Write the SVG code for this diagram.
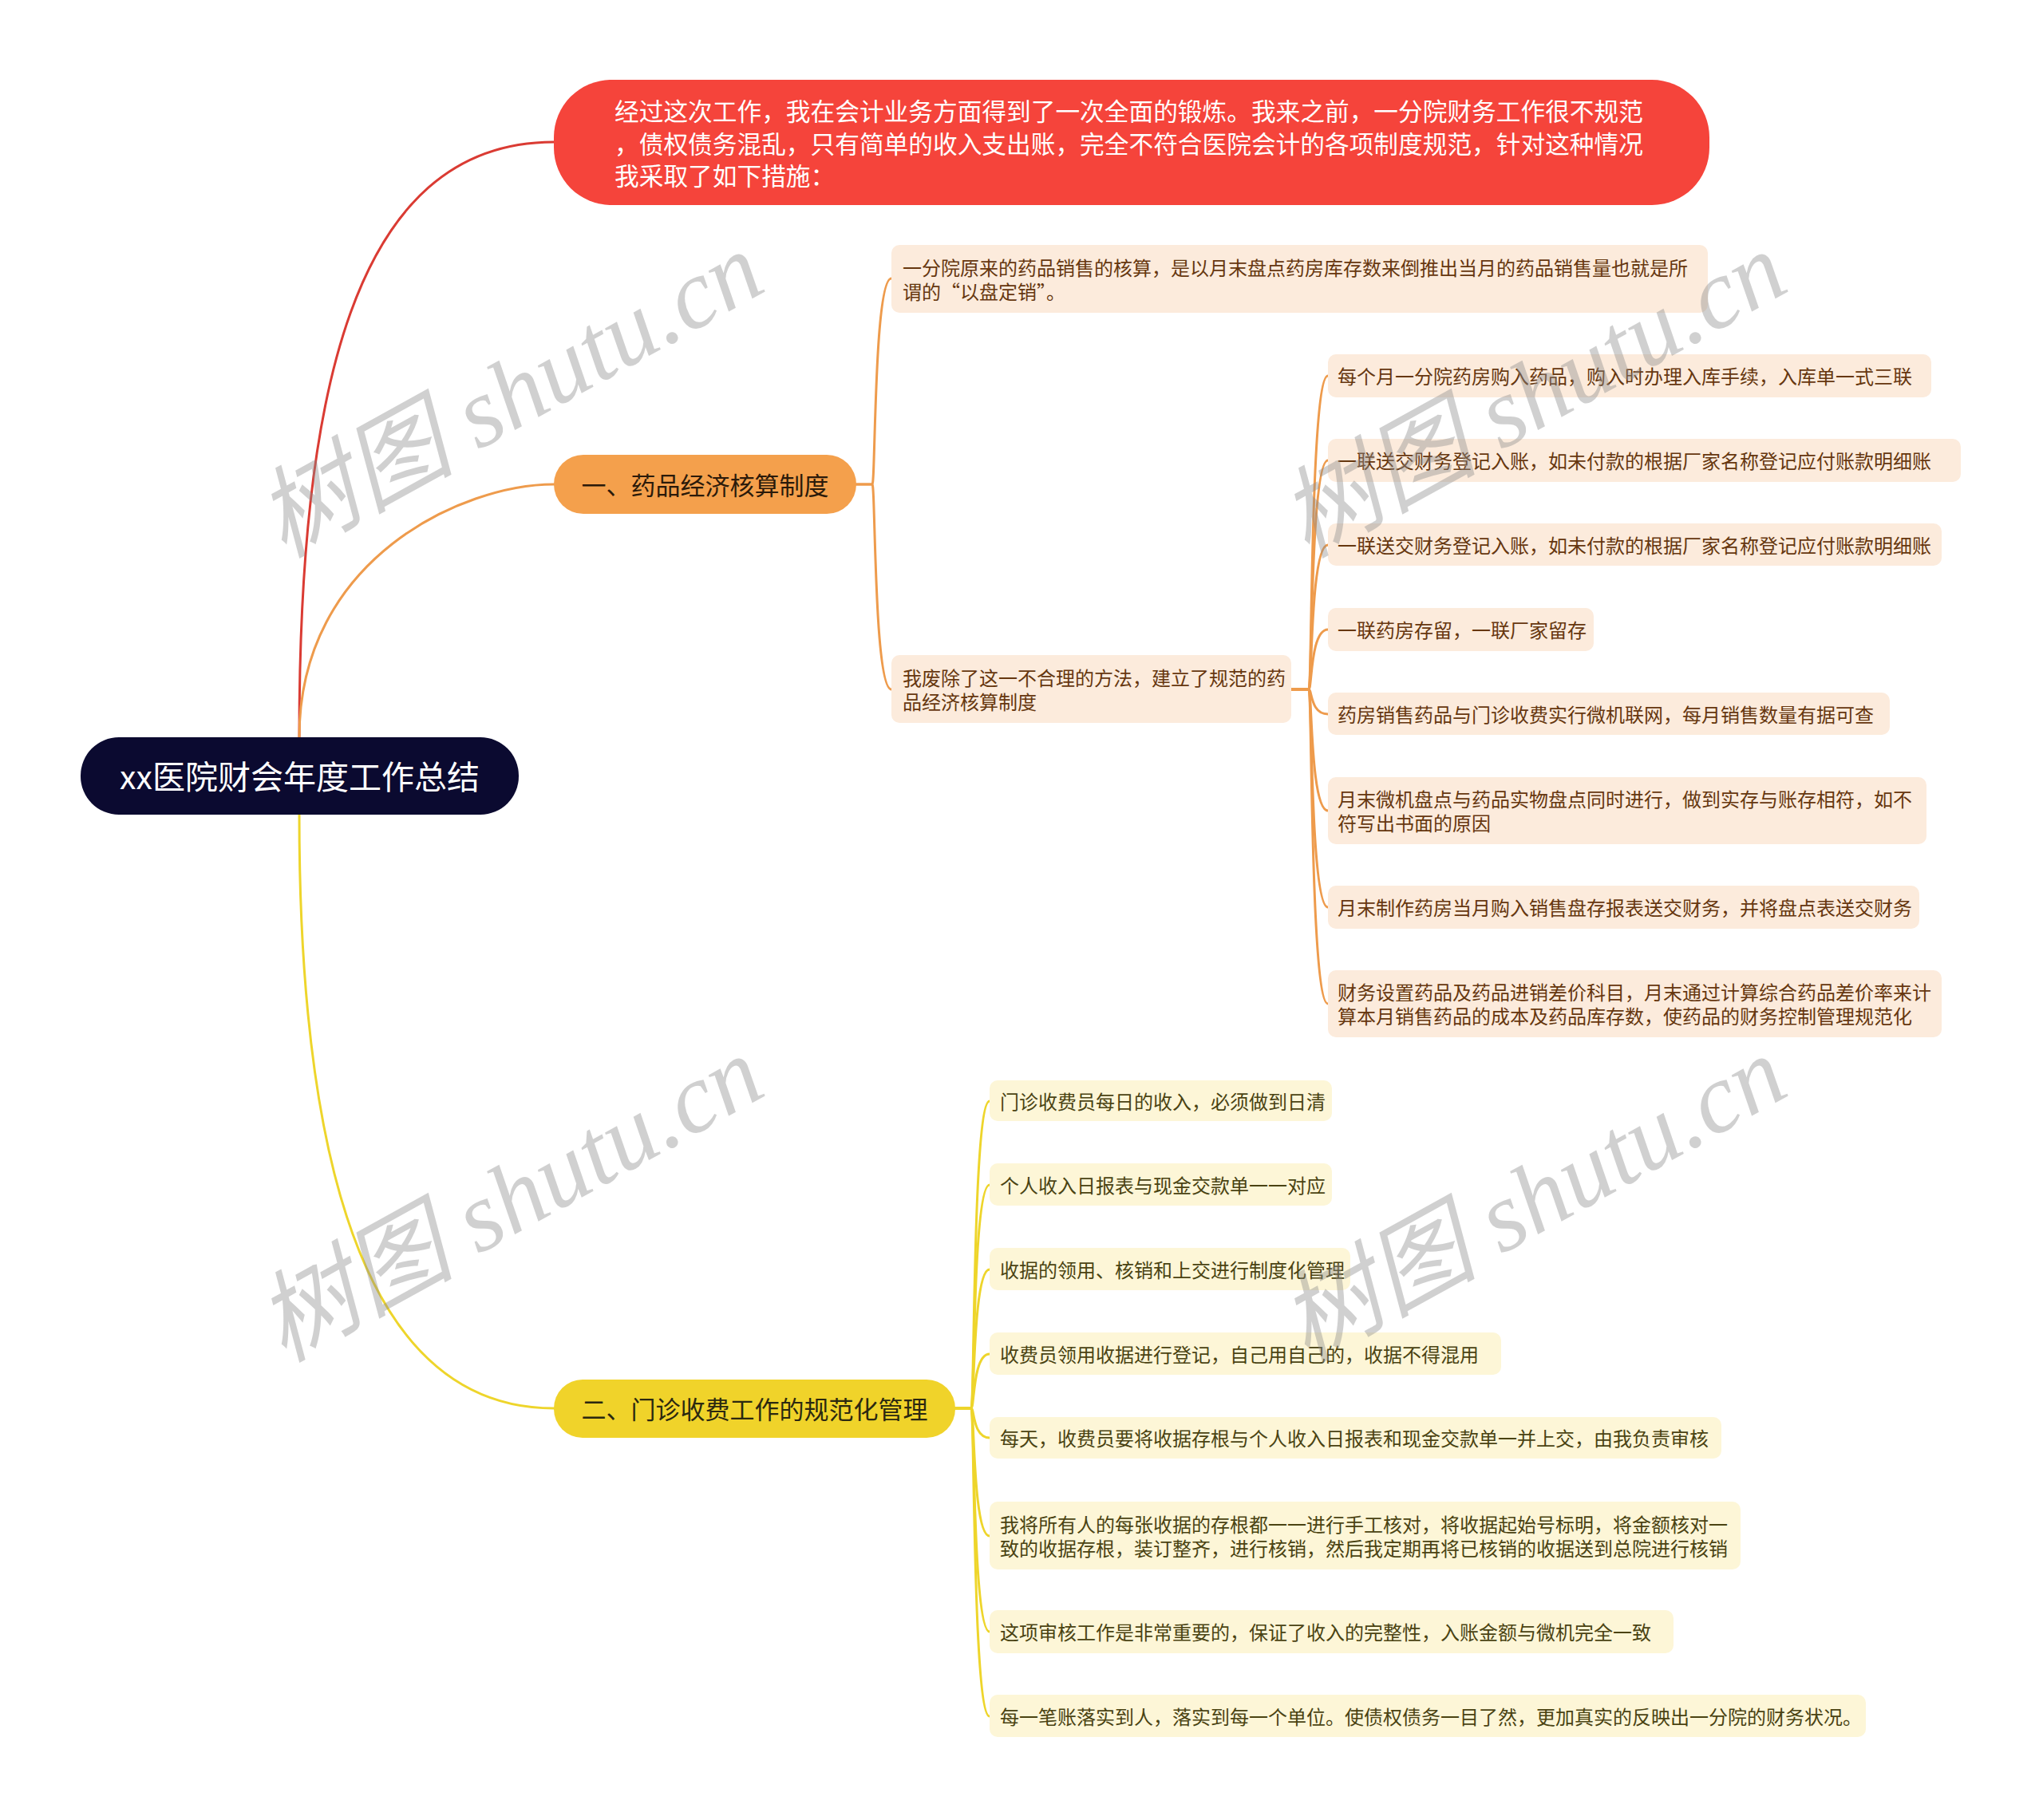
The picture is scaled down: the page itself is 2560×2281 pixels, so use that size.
<svg xmlns="http://www.w3.org/2000/svg" width="2560" height="2281" viewBox="0 0 2560 2281">
<style>
  text { font-family: "Noto Sans CJK SC", "Noto Sans", sans-serif; dominant-baseline: central; }
  .c { fill: none; stroke-width: 3; stroke-linecap: round; }
  .cr { stroke: #DA3B33; }
  .co { stroke: #EE9B4C; }
  .cy { stroke: #EED52B; }
  .leafO { fill: #FCEBDC; }
  .leafY { fill: #FDF6D7; }
  .tO { font-size: 24px; fill: #66370F; }
  .tY { font-size: 24px; fill: #4A4312; }
  .wm { font-family: "Liberation Serif", "Noto Sans CJK SC", serif; font-style: italic; font-size: 124px; fill: #8C8C8C; opacity: 0.4; dominant-baseline: alphabetic; }
</style>
<rect x="0" y="0" width="2560" height="2281" fill="#FFFFFF"/>
<g id="connectors">
  <path class="c cr" d="M375,924 C375,500 440,178 694,178"/>
  <path class="c co" d="M375,924 C375,700 580,607 694,607"/>
  <path class="c cy" d="M375,1021 C375,1560 500,1765 694,1765"/>
  <path class="c co" d="M1073,607 H1093 C1097,607 1095,349 1117,349"/>
  <path class="c co" d="M1073,607 H1093 C1097,607 1095,864 1117,864"/>
  <path class="c co" d="M1618,864 H1640 C1644,864 1642,471 1664,471"/>
  <path class="c co" d="M1618,864 H1640 C1644,864 1642,577 1664,577"/>
  <path class="c co" d="M1618,864 H1640 C1644,864 1642,683 1664,683"/>
  <path class="c co" d="M1618,864 H1640 C1644,864 1642,789 1664,789"/>
  <path class="c co" d="M1618,864 H1640 C1644,864 1642,895 1664,895"/>
  <path class="c co" d="M1618,864 H1640 C1644,864 1642,1016 1664,1016"/>
  <path class="c co" d="M1618,864 H1640 C1644,864 1642,1137 1664,1137"/>
  <path class="c co" d="M1618,864 H1640 C1644,864 1642,1258 1664,1258"/>
  <path class="c cy" d="M1197,1765 H1217 C1221,1765 1219,1380 1240,1380"/>
  <path class="c cy" d="M1197,1765 H1217 C1221,1765 1219,1485 1240,1485"/>
  <path class="c cy" d="M1197,1765 H1217 C1221,1765 1219,1591 1240,1591"/>
  <path class="c cy" d="M1197,1765 H1217 C1221,1765 1219,1697 1240,1697"/>
  <path class="c cy" d="M1197,1765 H1217 C1221,1765 1219,1802 1240,1802"/>
  <path class="c cy" d="M1197,1765 H1217 C1221,1765 1219,1925 1240,1925"/>
  <path class="c cy" d="M1197,1765 H1217 C1221,1765 1219,2045 1240,2045"/>
  <path class="c cy" d="M1197,1765 H1217 C1221,1765 1219,2151 1240,2151"/>
</g>
<g id="root">
  <rect x="101" y="924" width="549" height="97" rx="48" fill="#0B0A30"/>
  <text x="375.5" y="971" text-anchor="middle" font-size="41" fill="#FFFFFF">xx医院财会年度工作总结</text>
</g>
<g id="intro">
  <rect x="694" y="100" width="1448" height="157" rx="72" fill="#F5443B"/>
  <text x="770" y="137" font-size="30.7" fill="#FFFFFF">经过这次工作，我在会计业务方面得到了一次全面的锻炼。我来之前，一分院财务工作很不规范</text>
  <text x="770" y="178" font-size="30.7" fill="#FFFFFF">，债权债务混乱，只有简单的收入支出账，完全不符合医院会计的各项制度规范，针对这种情况</text>
  <text x="770" y="218" font-size="30.7" fill="#FFFFFF">我采取了如下措施：</text>
</g>
<g id="branch1">
  <rect x="694" y="570" width="379" height="74" rx="37" fill="#F4A04C"/>
  <text x="883.5" y="606" text-anchor="middle" font-size="31" fill="#2B1A0A">一、药品经济核算制度</text>
</g>
<g id="b1-c1">
  <rect class="leafO" x="1117" y="307" width="1023" height="85" rx="10"/>
  <text class="tO" x="1131" y="334">一分院原来的药品销售的核算，是以月末盘点药房库存数来倒推出当月的药品销售量也就是所</text>
  <text class="tO" x="1131" y="364">谓的“以盘定销”。</text>
</g>
<g id="b1-c2">
  <rect class="leafO" x="1117" y="821" width="501" height="85" rx="10"/>
  <text class="tO" x="1131" y="848">我废除了这一不合理的方法，建立了规范的药</text>
  <text class="tO" x="1131" y="878">品经济核算制度</text>
</g>
<g id="b1-c2-1">
  <rect class="leafO" x="1664" y="444" width="756" height="54" rx="10"/>
  <text class="tO" x="1676" y="470">每个月一分院药房购入药品，购入时办理入库手续，入库单一式三联</text>
</g>
<g id="b1-c2-2">
  <rect class="leafO" x="1664" y="550" width="793" height="54" rx="10"/>
  <text class="tO" x="1676" y="576">一联送交财务登记入账，如未付款的根据厂家名称登记应付账款明细账</text>
</g>
<g id="b1-c2-3">
  <rect class="leafO" x="1664" y="656" width="769" height="53" rx="10"/>
  <text class="tO" x="1676" y="682">一联送交财务登记入账，如未付款的根据厂家名称登记应付账款明细账</text>
</g>
<g id="b1-c2-4">
  <rect class="leafO" x="1664" y="762" width="333" height="54" rx="10"/>
  <text class="tO" x="1676" y="788">一联药房存留，一联厂家留存</text>
</g>
<g id="b1-c2-5">
  <rect class="leafO" x="1664" y="868" width="704" height="53" rx="10"/>
  <text class="tO" x="1676" y="894">药房销售药品与门诊收费实行微机联网，每月销售数量有据可查</text>
</g>
<g id="b1-c2-6">
  <rect class="leafO" x="1664" y="974" width="750" height="84" rx="10"/>
  <text class="tO" x="1676" y="1000">月末微机盘点与药品实物盘点同时进行，做到实存与账存相符，如不</text>
  <text class="tO" x="1676" y="1030">符写出书面的原因</text>
</g>
<g id="b1-c2-7">
  <rect class="leafO" x="1664" y="1110" width="741" height="54" rx="10"/>
  <text class="tO" x="1676" y="1136">月末制作药房当月购入销售盘存报表送交财务，并将盘点表送交财务</text>
</g>
<g id="b1-c2-8">
  <rect class="leafO" x="1664" y="1216" width="769" height="84" rx="10"/>
  <text class="tO" x="1676" y="1242">财务设置药品及药品进销差价科目，月末通过计算综合药品差价率来计</text>
  <text class="tO" x="1676" y="1272">算本月销售药品的成本及药品库存数，使药品的财务控制管理规范化</text>
</g>
<g id="branch2">
  <rect x="694" y="1729" width="503" height="73" rx="36" fill="#F0D32A"/>
  <text x="945.5" y="1764" text-anchor="middle" font-size="31" fill="#2B2810">二、门诊收费工作的规范化管理</text>
</g>
<g id="b2-c1">
  <rect class="leafY" x="1240" y="1354" width="429" height="51" rx="10"/>
  <text class="tY" x="1253" y="1379">门诊收费员每日的收入，必须做到日清</text>
</g>
<g id="b2-c2">
  <rect class="leafY" x="1240" y="1458" width="429" height="53" rx="10"/>
  <text class="tY" x="1253" y="1484">个人收入日报表与现金交款单一一对应</text>
</g>
<g id="b2-c3">
  <rect class="leafY" x="1240" y="1564" width="452" height="53" rx="10"/>
  <text class="tY" x="1253" y="1590">收据的领用、核销和上交进行制度化管理</text>
</g>
<g id="b2-c4">
  <rect class="leafY" x="1240" y="1670" width="641" height="53" rx="10"/>
  <text class="tY" x="1253" y="1696">收费员领用收据进行登记，自己用自己的，收据不得混用</text>
</g>
<g id="b2-c5">
  <rect class="leafY" x="1240" y="1776" width="917" height="52" rx="10"/>
  <text class="tY" x="1253" y="1801">每天，收费员要将收据存根与个人收入日报表和现金交款单一并上交，由我负责审核</text>
</g>
<g id="b2-c6">
  <rect class="leafY" x="1240" y="1882" width="941" height="85" rx="10"/>
  <text class="tY" x="1253" y="1909">我将所有人的每张收据的存根都一一进行手工核对，将收据起始号标明，将金额核对一</text>
  <text class="tY" x="1253" y="1939">致的收据存根，装订整齐，进行核销，然后我定期再将已核销的收据送到总院进行核销</text>
</g>
<g id="b2-c7">
  <rect class="leafY" x="1240" y="2018" width="857" height="54" rx="10"/>
  <text class="tY" x="1253" y="2044">这项审核工作是非常重要的，保证了收入的完整性，入账金额与微机完全一致</text>
</g>
<g id="b2-c8">
  <rect class="leafY" x="1240" y="2124" width="1098" height="53" rx="10"/>
  <text class="tY" x="1253" y="2150">每一笔账落实到人，落实到每一个单位。使债权债务一目了然，更加真实的反映出一分院的财务状况。</text>
</g>
<g id="watermarks">
  <text class="wm" x="355" y="700" transform="rotate(-29 355 700)">树图 shutu.cn</text>
  <text class="wm" x="355" y="1708" transform="rotate(-29 355 1708)">树图 shutu.cn</text>
  <text class="wm" x="1637" y="700" transform="rotate(-29 1637 700)">树图 shutu.cn</text>
  <text class="wm" x="1637" y="1708" transform="rotate(-29 1637 1708)">树图 shutu.cn</text>
</g>
</svg>
